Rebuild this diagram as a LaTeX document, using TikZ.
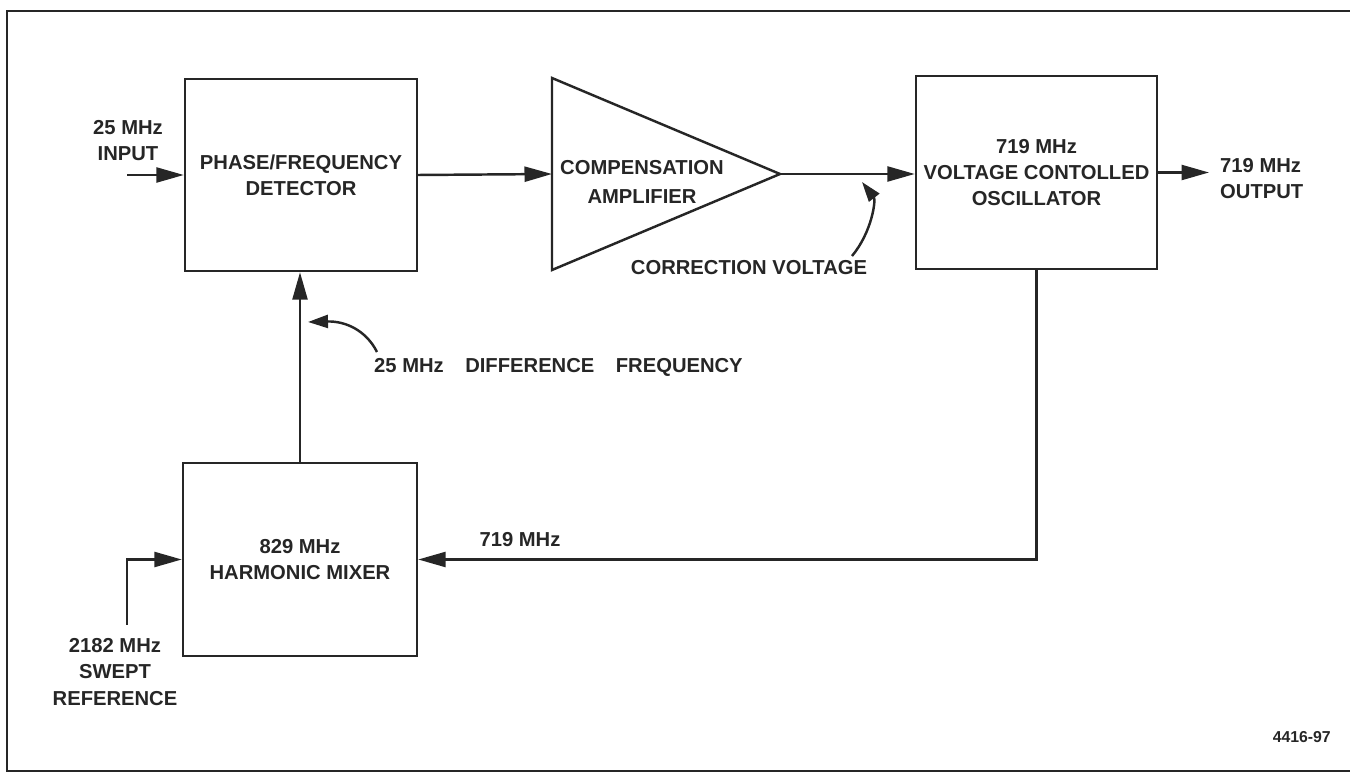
\documentclass[tikz,border=0pt]{standalone}
\usepackage{fontspec}
\setmainfont{Liberation Sans}
\usepackage{tikz}
\usetikzlibrary{arrows.meta,positioning,calc}
\definecolor{inkGrey}{HTML}{262626}

\begin{document}
\begin{tikzpicture}[x=0.02cm,y=-0.02cm,
  font=\fontsize{11.5}{15}\selectfont\bfseries,
  every node/.style={text=inkGrey},
  block/.style={draw=inkGrey,line width=1.4pt,inner sep=0pt,align=center},
  wire/.style={draw=inkGrey,line width=1.4pt},
  sig/.style={wire,-{Triangle[length=0.55cm,width=0.3cm]}},
  pointer/.style={wire,-{Triangle[length=0.4cm,width=0.26cm]}}]
\useasboundingbox (0,0) rectangle (1350,773);
% page frame (right side is cut off)
\draw[inkGrey,line width=1.2pt] (1350,11) -- (7,11) -- (7,771) -- (1350,771);

% blocks
\node[block,minimum width=4.64cm,minimum height=3.84cm] (pd) at (301,175) {PHASE/FREQUENCY\\DETECTOR};
\node[block,minimum width=4.82cm,minimum height=3.86cm] (vco) at (1036.5,172.5) {719 MHz\\VOLTAGE CONTOLLED\\OSCILLATOR};
\node[block,minimum width=4.68cm,minimum height=3.86cm] (mix) at (300,559.5) {829 MHz\\HARMONIC MIXER};
\draw[wire,line join=miter] (552,78) -- (780,174) -- (552,270) -- cycle;
\coordinate (ampin) at (552,174);
\coordinate (ampout) at (780,174);
\node[align=center] (amptext) at (642,182) {COMPENSATION\\[2pt]AMPLIFIER};

% signal path
\coordinate (inp) at (127,175);
\coordinate (outp) at (1209,172.5);
\coordinate (swp) at (127,625);
\draw[sig] (inp) -- (inp -| pd.west);
\draw[sig] (pd.east) -- (ampin);
\draw[sig] (ampout) -- (ampout -| vco.west);
\draw[sig] (vco.east) -- (outp);
\draw[sig] (vco.south) |- (mix.east);
\draw[sig] (mix.north) -- (mix.north |- pd.south);
\draw[sig] (swp) |- (mix.west);

% labels
\node[align=center] (inlbl) at (128,140.5) {25 MHz\\INPUT};
\node[anchor=west,align=left] (outlbl) at (1214,178.5) {719 MHz\\OUTPUT};
\node (fblbl) at (520,540) {719 MHz};
\node[align=center] (swlbl) at (115,672) {2182 MHz\\SWEPT\\REFERENCE};
\node (cvlbl) at (749,268) {CORRECTION VOLTAGE};
\node[anchor=west] (dflbl) at (368,367) {25 MHz\hspace{0.43cm}DIFFERENCE\hspace{0.43cm}FREQUENCY};
\node[anchor=east,font=\fontsize{9}{11}\selectfont\bfseries] (fignum) at (1337,737) {4416-97};

% curved pointers
\coordinate (cvtail) at (852,256);
\coordinate (cvtip) at (862,182);
\draw[pointer] (cvtail) .. controls (872,232) and (876,200) .. (cvtip);
\coordinate (dftail) at (377,352);
\coordinate (dftip) at (308,322);
\draw[pointer] (dftail) .. controls (366,330) and (345,321) .. (dftip);
\end{tikzpicture}
\end{document}
